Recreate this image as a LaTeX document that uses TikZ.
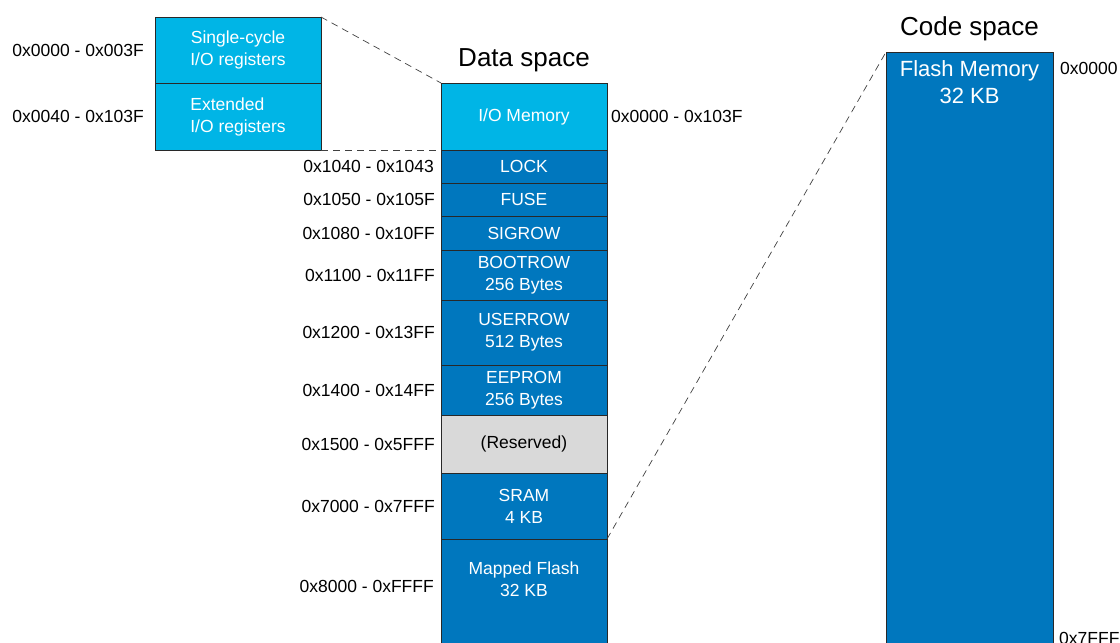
\documentclass[tikz,border=0pt]{standalone}
\usepackage{fontspec}
\setmainfont{Liberation Sans}
\usetikzlibrary{positioning, calc}
\definecolor{iocol}{RGB}{0,181,230}
\definecolor{memcol}{RGB}{0,119,190}
\definecolor{rescol}{RGB}{217,217,217}
\definecolor{edgecol}{RGB}{40,40,40}

\begin{document}
\begin{tikzpicture}[
x=1pt, y=-1pt,
node distance=0pt,
region/.style={rectangle, draw=edgecol, line width=0.8pt, fill=memcol, text=white, minimum width=166pt, inner sep=0pt, outer sep=0pt, align=center, font=\fontsize{17.5}{22}\selectfont},
iobox/.style={region, fill=iocol},
resbox/.style={region, fill=rescol, text=black},
boxtext/.style={inner sep=0pt, text=white, align=center},
addr/.style={inner sep=0pt, font=\fontsize{17.5}{22}\selectfont},
title/.style={inner sep=0pt, anchor=base, font=\fontsize{26}{30}\selectfont},
zoomline/.style={dash pattern=on 7pt off 5pt, line width=0.7pt, draw=black!75}
]
\useasboundingbox (0,0) rectangle (1120,643);

% I/O detail
\node[iobox, minimum height=66pt, anchor=north west] (sio) at (155,17) {Single-cycle\\I/O registers};
\node[iobox, minimum height=67pt, below=of sio, align=left] (eio) {Extended\\I/O registers};
\node[addr, left=11pt of sio] (sioaddr) {0x0000 - 0x003F};
\node[addr, left=11pt of eio] (eioaddr) {0x0040 - 0x103F};

% data space
\node[iobox, minimum height=67pt, anchor=north west] (io) at (441,83) {I/O Memory};
\node[region, minimum height=33pt, below=of io] (lock) {LOCK};
\node[region, minimum height=33pt, below=of lock] (fuse) {FUSE};
\node[region, minimum height=34pt, below=of fuse] (sigrow) {SIGROW};
\node[region, minimum height=50pt, below=of sigrow] (bootrow) {BOOTROW\\256 Bytes};
\node[region, minimum height=65pt, below=of bootrow] (userrow) {USERROW\\512 Bytes};
\node[region, minimum height=50pt, below=of userrow] (eeprom) {EEPROM\\256 Bytes};
\node[resbox, minimum height=58pt, below=of eeprom] (reserved) {(Reserved)};
\node[region, minimum height=66pt, below=of reserved] (sram) {SRAM\\4 KB};
\node[region, minimum height=130pt, below=of sram] (mflash) {};
\node[boxtext, font=\fontsize{17.5}{22}\selectfont, below=23pt of mflash.north] (mflashtxt) {Mapped Flash\\32 KB};
\node[title] (dtitle) at ($(io.north)+(0,-17)$) {Data space};

\node[addr, right=4pt of io] (ioaddr) {0x0000 - 0x103F};
\node[addr, left=7pt of lock] (lockaddr) {0x1040 - 0x1043};
\node[addr, left=6pt of fuse] (fuseaddr) {0x1050 - 0x105F};
\node[addr, left=6pt of sigrow] (sigrowaddr) {0x1080 - 0x10FF};
\node[addr, left=6pt of bootrow] (bootrowaddr) {0x1100 - 0x11FF};
\node[addr, left=6pt of userrow] (userrowaddr) {0x1200 - 0x13FF};
\node[addr, left=6pt of eeprom] (eepromaddr) {0x1400 - 0x14FF};
\node[addr, left=6pt of reserved] (reservedaddr) {0x1500 - 0x5FFF};
\node[addr, left=6pt of sram] (sramaddr) {0x7000 - 0x7FFF};
\node[addr, anchor=east] (mflashaddr) at ($(mflash.north west)+(-7,47)$) {0x8000 - 0xFFFF};

% code space
\node[region, minimum width=167pt, minimum height=598pt, anchor=north west] (flash) at (886,52) {};
\node[boxtext, font=\fontsize{22}{27}\selectfont, below=8pt of flash.north] (flashtxt) {Flash Memory\\32 KB};
\node[title] (ctitle) at ($(flash.north)+(0,-17)$) {Code space};
\node[addr, anchor=west] (flashtop) at ($(flash.north east)+(7,16)$) {0x0000};
\node[addr, anchor=west] (flashend) at ($(flash.south east)+(6,-12)$) {0x7FFF};

% zoom lines
\draw[zoomline] (sio.north east) -- (io.north west);
\draw[zoomline] (eio.south east) -- (io.south west);
\draw[zoomline] (sram.south east) -- (flash.north west);

\end{tikzpicture}
\end{document}
